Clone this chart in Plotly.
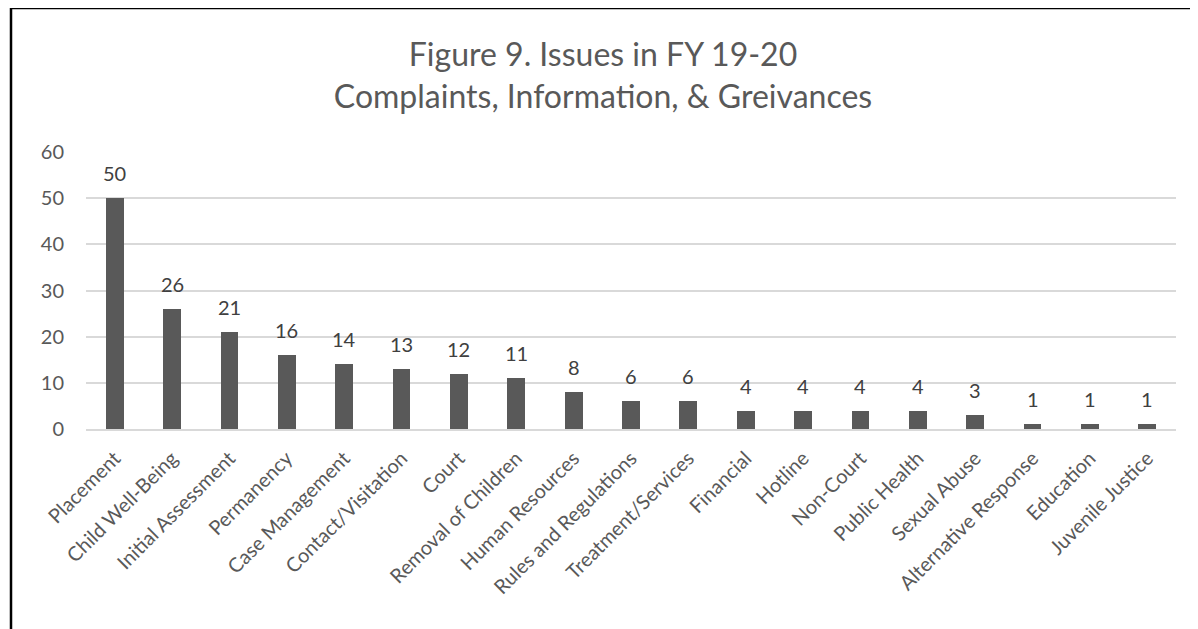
import plotly.graph_objects as go

categories = ['Placement', 'Child Well-Being', 'Initial Assessment', 'Permanency',
              'Case Management', 'Contact/Visitation', 'Court', 'Removal of Children',
              'Human Resources', 'Rules and Regulations', 'Treatment/Services',
              'Financial', 'Hotline', 'Non-Court', 'Public Health', 'Sexual Abuse',
              'Alternative Response', 'Education', 'Juvenile Justice']
counts = [50, 26, 21, 16, 14, 13, 12, 11, 8, 6, 6, 4, 4, 4, 4, 3, 1, 1, 1]
y_ticks = [0, 10, 20, 30, 40, 50, 60]

# page has an 8px body margin, so the figure is a bit smaller than the window
W, H = 1190, 621
L, R, T, B = 78, 22, 144, 200
pw, ph = W - L - R, H - T - B

fig = go.Figure(go.Bar(
    x=categories, y=counts, width=0.31,
    marker=dict(color='#595959', line=dict(width=0)),
))

# value labels sit a bit above each bar
for c, v in zip(categories, counts):
    fig.add_annotation(x=c, y=v, text=str(v), showarrow=False, yanchor='bottom', yshift=11,
                       font=dict(size=20, color='#404040', family='Lato'))

fig.update_layout(
    width=W, height=H,
    margin=dict(l=L, r=R, t=T, b=B, autoexpand=False),
    plot_bgcolor='white', paper_bgcolor='white',
    font=dict(family='Lato', color='#595959'),
    title=dict(text='Figure 9. Issues in FY 19-20<br>Complaints, Information, & Greivances',
               x=0.5, xanchor='center', y=1 - 58 / H, yanchor='top', yref='container',
               font=dict(size=32, color='#595959', family='Lato')),
    showlegend=False,
    bargap=0,
)
fig.update_xaxes(tickangle=-45, tickfont=dict(size=20, color='#595959'), automargin=False,
                 showline=True, linecolor='#d9d9d9', linewidth=1.5, ticks='',
                 ticklabelstandoff=8)
fig.update_yaxes(range=[0, 60], tickvals=y_ticks, tickfont=dict(size=20, color='#595959'),
                 gridcolor='#d9d9d9', gridwidth=1.5, zeroline=False, ticks='', ticklen=0,
                 ticklabelstandoff=21, automargin=False)

# outer frame (left and top edges visible in the source)
x_left = (3 - L) / pw
x_right = (W + 5 - L) / pw
y_top = (H - B) / ph
y_bot = (-B - 5) / ph
fig.add_shape(type='line', xref='paper', yref='paper', x0=x_left, x1=x_left, y0=y_bot, y1=y_top,
              line=dict(color='black', width=2.5))
fig.add_shape(type='line', xref='paper', yref='paper', x0=x_left, x1=x_right, y0=y_top, y1=y_top,
              line=dict(color='black', width=2.5))

fig.write_html('out.html')
